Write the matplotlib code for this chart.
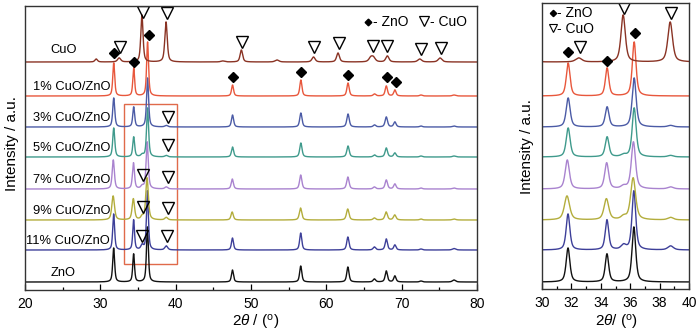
import numpy as np
import matplotlib
matplotlib.use('Agg')
import matplotlib.pyplot as plt
from matplotlib.ticker import MultipleLocator

plt.rcParams['font.family'] = ['Liberation Sans', 'DejaVu Sans']
plt.rcParams['mathtext.fontset'] = 'custom'
plt.rcParams['mathtext.rm'] = 'Liberation Sans'
plt.rcParams['mathtext.it'] = 'Liberation Sans:italic'

### peak tables: (2theta, height, fwhm)
zno_peaks = [(31.77, 34, 0.30), (34.42, 28, 0.28), (36.25, 55, 0.30), (47.54, 12, 0.32),
             (56.60, 16, 0.34), (62.86, 15, 0.36), (66.38, 3, 0.40), (67.96, 11, 0.36),
             (69.10, 6, 0.36), (72.56, 1, 0.40), (76.95, 2, 0.50)]
cu11_peaks = [(31.77, 36, 0.30), (34.42, 30, 0.28), (36.25, 59, 0.30), (47.54, 12, 0.32),
              (56.60, 17, 0.34), (62.86, 13, 0.36), (66.38, 3, 0.40), (67.96, 11, 0.36),
              (69.10, 5, 0.36), (72.56, 1, 0.40), (76.95, 1.5, 0.50),
              (35.55, 4.5, 0.40), (38.75, 4, 0.45)]
cu9_peaks = [(31.70, 24, 0.42), (34.38, 21, 0.38), (36.20, 42, 0.40), (47.50, 8, 0.36),
             (56.58, 12, 0.38), (62.84, 11, 0.40), (66.38, 2, 0.40), (67.94, 8, 0.40),
             (69.08, 5, 0.40), (72.56, 1, 0.40), (76.95, 1, 0.50),
             (35.55, 3, 0.40), (38.75, 2.5, 0.45)]
cu7_peaks = [(31.72, 29, 0.34), (34.40, 26, 0.32), (36.22, 47, 0.34), (47.52, 10, 0.34),
             (56.60, 14, 0.36), (62.86, 12, 0.38), (66.38, 2, 0.40), (67.96, 9, 0.38),
             (69.10, 5, 0.38), (72.56, 1, 0.40), (76.95, 1, 0.50),
             (35.55, 2.5, 0.40), (38.75, 2, 0.45)]
cu5_peaks = [(31.78, 29, 0.32), (34.43, 20, 0.30), (36.27, 49, 0.32), (47.55, 10, 0.34),
             (56.62, 14, 0.36), (62.88, 11, 0.38), (66.40, 2, 0.40), (67.96, 9, 0.38),
             (69.10, 4, 0.38), (72.56, 1, 0.40), (76.95, 1, 0.50),
             (35.55, 2, 0.40), (38.75, 1.5, 0.45)]
cu3_peaks = [(31.78, 29, 0.32), (34.43, 20, 0.30), (36.27, 49, 0.32), (47.55, 12, 0.34),
             (56.62, 14, 0.36), (62.88, 13, 0.38), (66.40, 2, 0.40), (67.96, 10, 0.38),
             (69.10, 5, 0.38), (72.56, 1, 0.40), (76.95, 1, 0.50),
             (38.75, 1.5, 0.45)]
cu1_peaks = [(31.78, 33, 0.30), (34.43, 28, 0.28), (36.27, 54, 0.30), (47.55, 11, 0.32),
             (56.62, 16, 0.34), (62.88, 13, 0.36), (66.40, 2, 0.40), (67.96, 10, 0.36),
             (69.10, 6, 0.36), (72.56, 1, 0.40), (76.95, 1, 0.50)]
cuo_peaks = [(29.45, 3, 0.40), (32.50, 4, 0.50), (35.52, 47, 0.35), (38.72, 40, 0.38),
             (46.25, 1, 0.60), (48.72, 12, 0.40), (53.45, 2, 0.60), (58.30, 5, 0.50),
             (61.55, 9, 0.45), (65.90, 4, 0.60), (66.25, 4, 0.60), (68.10, 6, 0.50),
             (72.40, 3, 0.60), (75.10, 4, 0.60)]

samples = [zno_peaks, cu11_peaks, cu9_peaks, cu7_peaks, cu5_peaks, cu3_peaks, cu1_peaks, cuo_peaks]
labels = ['ZnO', '11% CuO/ZnO', '9% CuO/ZnO', '7% CuO/ZnO', '5% CuO/ZnO',
          '3% CuO/ZnO', '1% CuO/ZnO', 'CuO']
offsets = [8, 40, 70, 101, 133, 163, 194, 228]
colors = ['#111111', '#3d3f99', '#b3ad3c', '#a983cf', '#3f9a8c', '#4b5ba6', '#e8573c', '#8a3324']

# markers (2theta, y)
zno_marks = [(31.8, 237), (34.45, 228), (36.45, 255), (47.6, 213), (56.65, 218),
             (62.9, 215), (68.0, 213), (69.2, 208)]
cuo_marks = [(32.6, 243), (35.65, 278), (38.9, 277), (48.8, 248), (58.4, 243),
             (61.7, 247), (66.2, 244), (68.1, 244), (72.5, 241), (75.2, 242),
             (39.0, 173), (39.0, 145), (35.7, 115), (38.95, 113), (35.7, 83),
             (38.95, 82), (35.55, 54), (38.8, 54)]
zno_marks_zoom = [(31.77, 238), (34.4, 229), (36.3, 257)]
cuo_marks_zoom = [(32.6, 243), (35.6, 282), (38.8, 277)]


def pattern(x, peaks):
    y = np.zeros_like(x)
    for c, h, w in peaks:
        g = np.exp(-4 * np.log(2) * ((x - c) / w) ** 2)
        lo = 1.0 / (1 + ((x - c) / (w / 2)) ** 2)
        y += h * (0.6 * lo + 0.4 * g)
    return y


x = np.linspace(20, 80, 12001)

fig = plt.figure(figsize=(7, 3.34), dpi=100)
ax = fig.add_axes([25 / 700, 44 / 334, 452 / 700, 284 / 334])
ax2 = fig.add_axes([542 / 700, 45 / 334, 147 / 700, 286 / 334])

for peaks, off, col in zip(samples, offsets, colors):
    y = off + pattern(x, peaks)
    ax.plot(x, y, color=col, lw=1.0)
    ax2.plot(x, y, color=col, lw=1.0)

for lab, off in zip(labels, offsets):
    if '%' in lab:
        ax.text(31.3, off + 9, lab, ha='right', va='center', fontsize=9.3)
    else:
        ax.text(25.1, off + (12 if lab == 'CuO' else 9), lab, ha='center', va='center', fontsize=9.3)

ax.plot(*zip(*zno_marks), ls='none', marker='D', ms=4.8, color='black')
ax.plot(*zip(*cuo_marks), ls='none', marker='v', ms=8.5, mfc='none', mec='black', mew=1.0)
ax2.plot(*zip(*zno_marks_zoom), ls='none', marker='D', ms=4.8, color='black')
ax2.plot(*zip(*cuo_marks_zoom), ls='none', marker='v', ms=8.5, mfc='none', mec='black', mew=1.0)

# legends
ax.plot([65.5], [268], ls='none', marker='D', ms=3.4, color='black')
ax.text(66.2, 268, '- ZnO', va='center', fontsize=10)
ax.plot([73.0], [269], ls='none', marker='v', ms=7, mfc='none', mec='black', mew=0.9)
ax.text(73.8, 268, '- CuO', va='center', fontsize=10)
ax2.plot([30.75], [277], ls='none', marker='D', ms=3.2, color='black')
ax2.text(31.05, 277, '- ZnO', va='center', fontsize=10)
ax2.plot([30.75], [262], ls='none', marker='v', ms=5.5, mfc='none', mec='black', mew=0.8)
ax2.text(31.05, 261, '- CuO', va='center', fontsize=10)

# highlight box
ax.add_patch(plt.Rectangle((33.1, 26), 7.1, 160, fill=False, ec='#e06a4a', lw=1.0))

ax.set_xlim(20, 80)
ax.set_ylim(0, 284)
ax.xaxis.set_major_locator(MultipleLocator(10))
ax.xaxis.set_minor_locator(MultipleLocator(5))
ax2.set_xlim(30, 40)
ax2.set_ylim(1, 287)
ax2.xaxis.set_major_locator(MultipleLocator(2))
ax2.xaxis.set_minor_locator(MultipleLocator(1))

for a in (ax, ax2):
    a.set_yticks([])
    a.tick_params(axis='x', which='major', direction='in', length=4, width=0.9, labelsize=10, pad=5)
    a.tick_params(axis='x', which='minor', direction='in', length=2.5, width=0.9)
    for s in a.spines.values():
        s.set_color('#333333')
        s.set_linewidth(1.0)

fig.text(12 / 700, 1 - 144 / 334, 'Intensity / a.u.', rotation=90, ha='center', va='center', fontsize=11)
fig.text(527 / 700, 1 - 147 / 334, 'Intensity / a.u.', rotation=90, ha='center', va='center', fontsize=11)
fig.text(256 / 700, 1 - 323 / 334, r'2$\it{\theta}$ / ($^{\rm o}$)', ha='center', va='center', fontsize=11)
fig.text(616 / 700, 1 - 323 / 334, r'2$\it{\theta}$/ ($^{\rm o}$)', ha='center', va='center', fontsize=11)

fig.savefig('out.png', dpi=100)
